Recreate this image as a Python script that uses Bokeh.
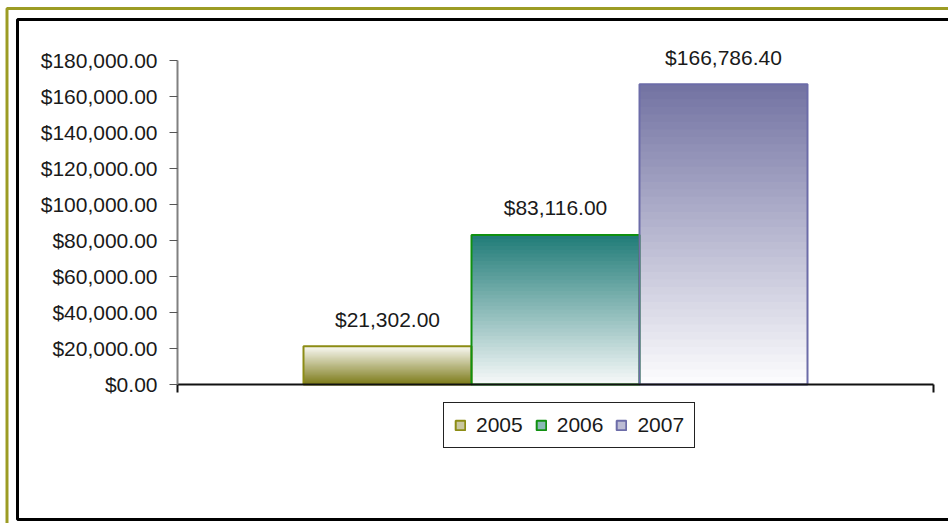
from bokeh.plotting import figure
from bokeh.models import (Range1d, FixedTicker, NumeralTickFormatter, Legend, LegendItem,
                          BoxAnnotation, ColumnDataSource)
from bokeh.core.properties import value
from bokeh.embed import file_html
from bokeh.resources import INLINE

# ---- data ----
years = ["2005", "2006", "2007"]
amounts = [21302.00, 83116.00, 166786.40]
y_ticks = [0, 20000, 40000, 60000, 80000, 100000, 120000, 140000, 160000, 180000]
Y_MAX = 180000

# ---- styles ----
FONT = "Liberation Sans"
FS = "21px"
grad_top = ["#fafaf5", "#1f7b77", "#7272a2"]
grad_bot = ["#7c7a18", "#f7f9f9", "#fdfdfe"]
outline = ["#8c8c14", "#109010", "#6c6ca8"]
legend_fill = ["#c9c7a0", "#8ab9b6", "#bcbcd4"]

# ---- layout (pixels inside the figure) ----
W, H = 948, 523
AX_L, AX_R = 177, 933      # x-axis extent
AX_T, AX_B = 60, 384       # y-axis extent (top = Y_MAX, bottom = 0)
xs_per_px = 1.0 / (AX_R - AX_L)
ys_per_px = Y_MAX / (AX_B - AX_T)
x0 = -AX_L * xs_per_px
x1 = x0 + W * xs_per_px
y1 = Y_MAX + AX_T * ys_per_px
y0 = y1 - H * ys_per_px


def px_x(px):
    return x0 + px * xs_per_px


def px_y(py):
    return y1 - py * ys_per_px


p = figure(width=W, height=H, output_backend="svg", toolbar_location=None,
           x_range=Range1d(x0, x1), y_range=Range1d(y0, y1), min_border=0)
p.background_fill_color = "white"
p.border_fill_color = "white"
p.outline_line_color = None
p.xgrid.visible = False
p.ygrid.visible = False

n = len(years)
group_w = 2.0 / 3.0
bar_w = group_w / n
xs = [0.5 - group_w / 2 + bar_w * (i + 0.5) for i in range(n)]


def hex2rgb(h):
    h = h.lstrip("#")
    return tuple(int(h[i:i + 2], 16) for i in (0, 2, 4))


def mix(c1, c2, t):
    a, b = hex2rgb(c1), hex2rgb(c2)
    return "#%02x%02x%02x" % tuple(round(a[k] + (b[k] - a[k]) * t) for k in range(3))


N = 40
for i in range(n):
    v = amounts[i]
    lefts, rights, bots, tops, cols = [], [], [], [], []
    for k in range(N):
        b = v * k / N
        t = min(v, v * (k + 2) / N)
        frac = (k + 0.5) / N  # 0 bottom, 1 top
        lefts.append(xs[i] - bar_w / 2)
        rights.append(xs[i] + bar_w / 2)
        bots.append(b)
        tops.append(t)
        cols.append(mix(grad_bot[i], grad_top[i], frac))
    p.quad(left=lefts, right=rights, bottom=bots, top=tops, fill_color=cols, line_color=None)

src = ColumnDataSource(dict(left=[x - bar_w / 2 for x in xs], right=[x + bar_w / 2 for x in xs],
                            top=amounts, bottom=[0] * n, lc=outline))
p.quad(left="left", right="right", top="top", bottom="bottom", source=src,
       fill_color=None, line_color="lc", line_width=2)

# value labels
labels = ["${:,.2f}".format(v) for v in amounts]
p.text(x=xs, y=amounts, text=labels, text_align="center", text_baseline="middle",
       y_offset=-27, text_font=value(FONT), text_font_size=FS, text_color="#1a1a1a")

# legend (swatch-only renderers, placed outside the visible range)
items = []
off = x1 + 1.0
for i in range(n):
    r = p.quad(left=[off], right=[off + 0.1], top=[amounts[i]], bottom=[0],
               fill_color=legend_fill[i], line_color=outline[i], line_width=2)
    items.append(LegendItem(label=years[i], renderers=[r]))
leg = Legend(items=items, orientation="horizontal", location=(443, H - 448),
             glyph_width=12, glyph_height=12, label_standoff=10, spacing=12,
             padding=10, margin=0, border_line_color="#222222", border_line_width=1,
             border_line_alpha=1.0,
             label_text_font=FONT, label_text_font_size=FS, label_text_color="#1a1a1a",
             background_fill_alpha=1.0, background_fill_color="white")
p.add_layout(leg, "center")

# axes at fixed data locations
ya = p.yaxis[0]
ya.fixed_location = 0
ya.bounds = (0, Y_MAX)
ya.ticker = FixedTicker(ticks=y_ticks)
ya.formatter = NumeralTickFormatter(format="$0,0.00")
ya.major_label_text_font = FONT
ya.major_label_text_font_size = FS
ya.major_label_text_color = "#1a1a1a"
ya.major_tick_in = 0
ya.major_tick_out = 8
ya.minor_tick_line_color = None
ya.axis_line_color = "#808080"
ya.axis_line_width = 2
ya.major_tick_line_color = "#555555"
ya.major_label_standoff = 12

xa = p.xaxis[0]
xa.fixed_location = 0
xa.bounds = (0, 1)
xa.ticker = FixedTicker(ticks=[0, 1])
xa.major_label_overrides = {0: "", 1: ""}
xa.major_tick_in = 0
xa.major_tick_out = 8
xa.minor_tick_line_color = None
xa.axis_line_color = "#111111"
xa.axis_line_width = 2
xa.major_tick_line_color = "#111111"
xa.major_tick_line_width = 2

# chart borders
p.add_layout(BoxAnnotation(left=px_x(6.5), right=px_x(W + 20), top=px_y(8), bottom=px_y(H + 20),
                           fill_alpha=0, line_color="#9c9c24", line_alpha=1.0, line_width=3,
                           level="overlay"))
p.add_layout(BoxAnnotation(left=px_x(17), right=px_x(W + 20), top=px_y(19), bottom=px_y(519),
                           fill_alpha=0, line_color="#000000", line_alpha=1.0, line_width=3,
                           level="overlay"))

open("out.html", "w").write(file_html(p, INLINE))
